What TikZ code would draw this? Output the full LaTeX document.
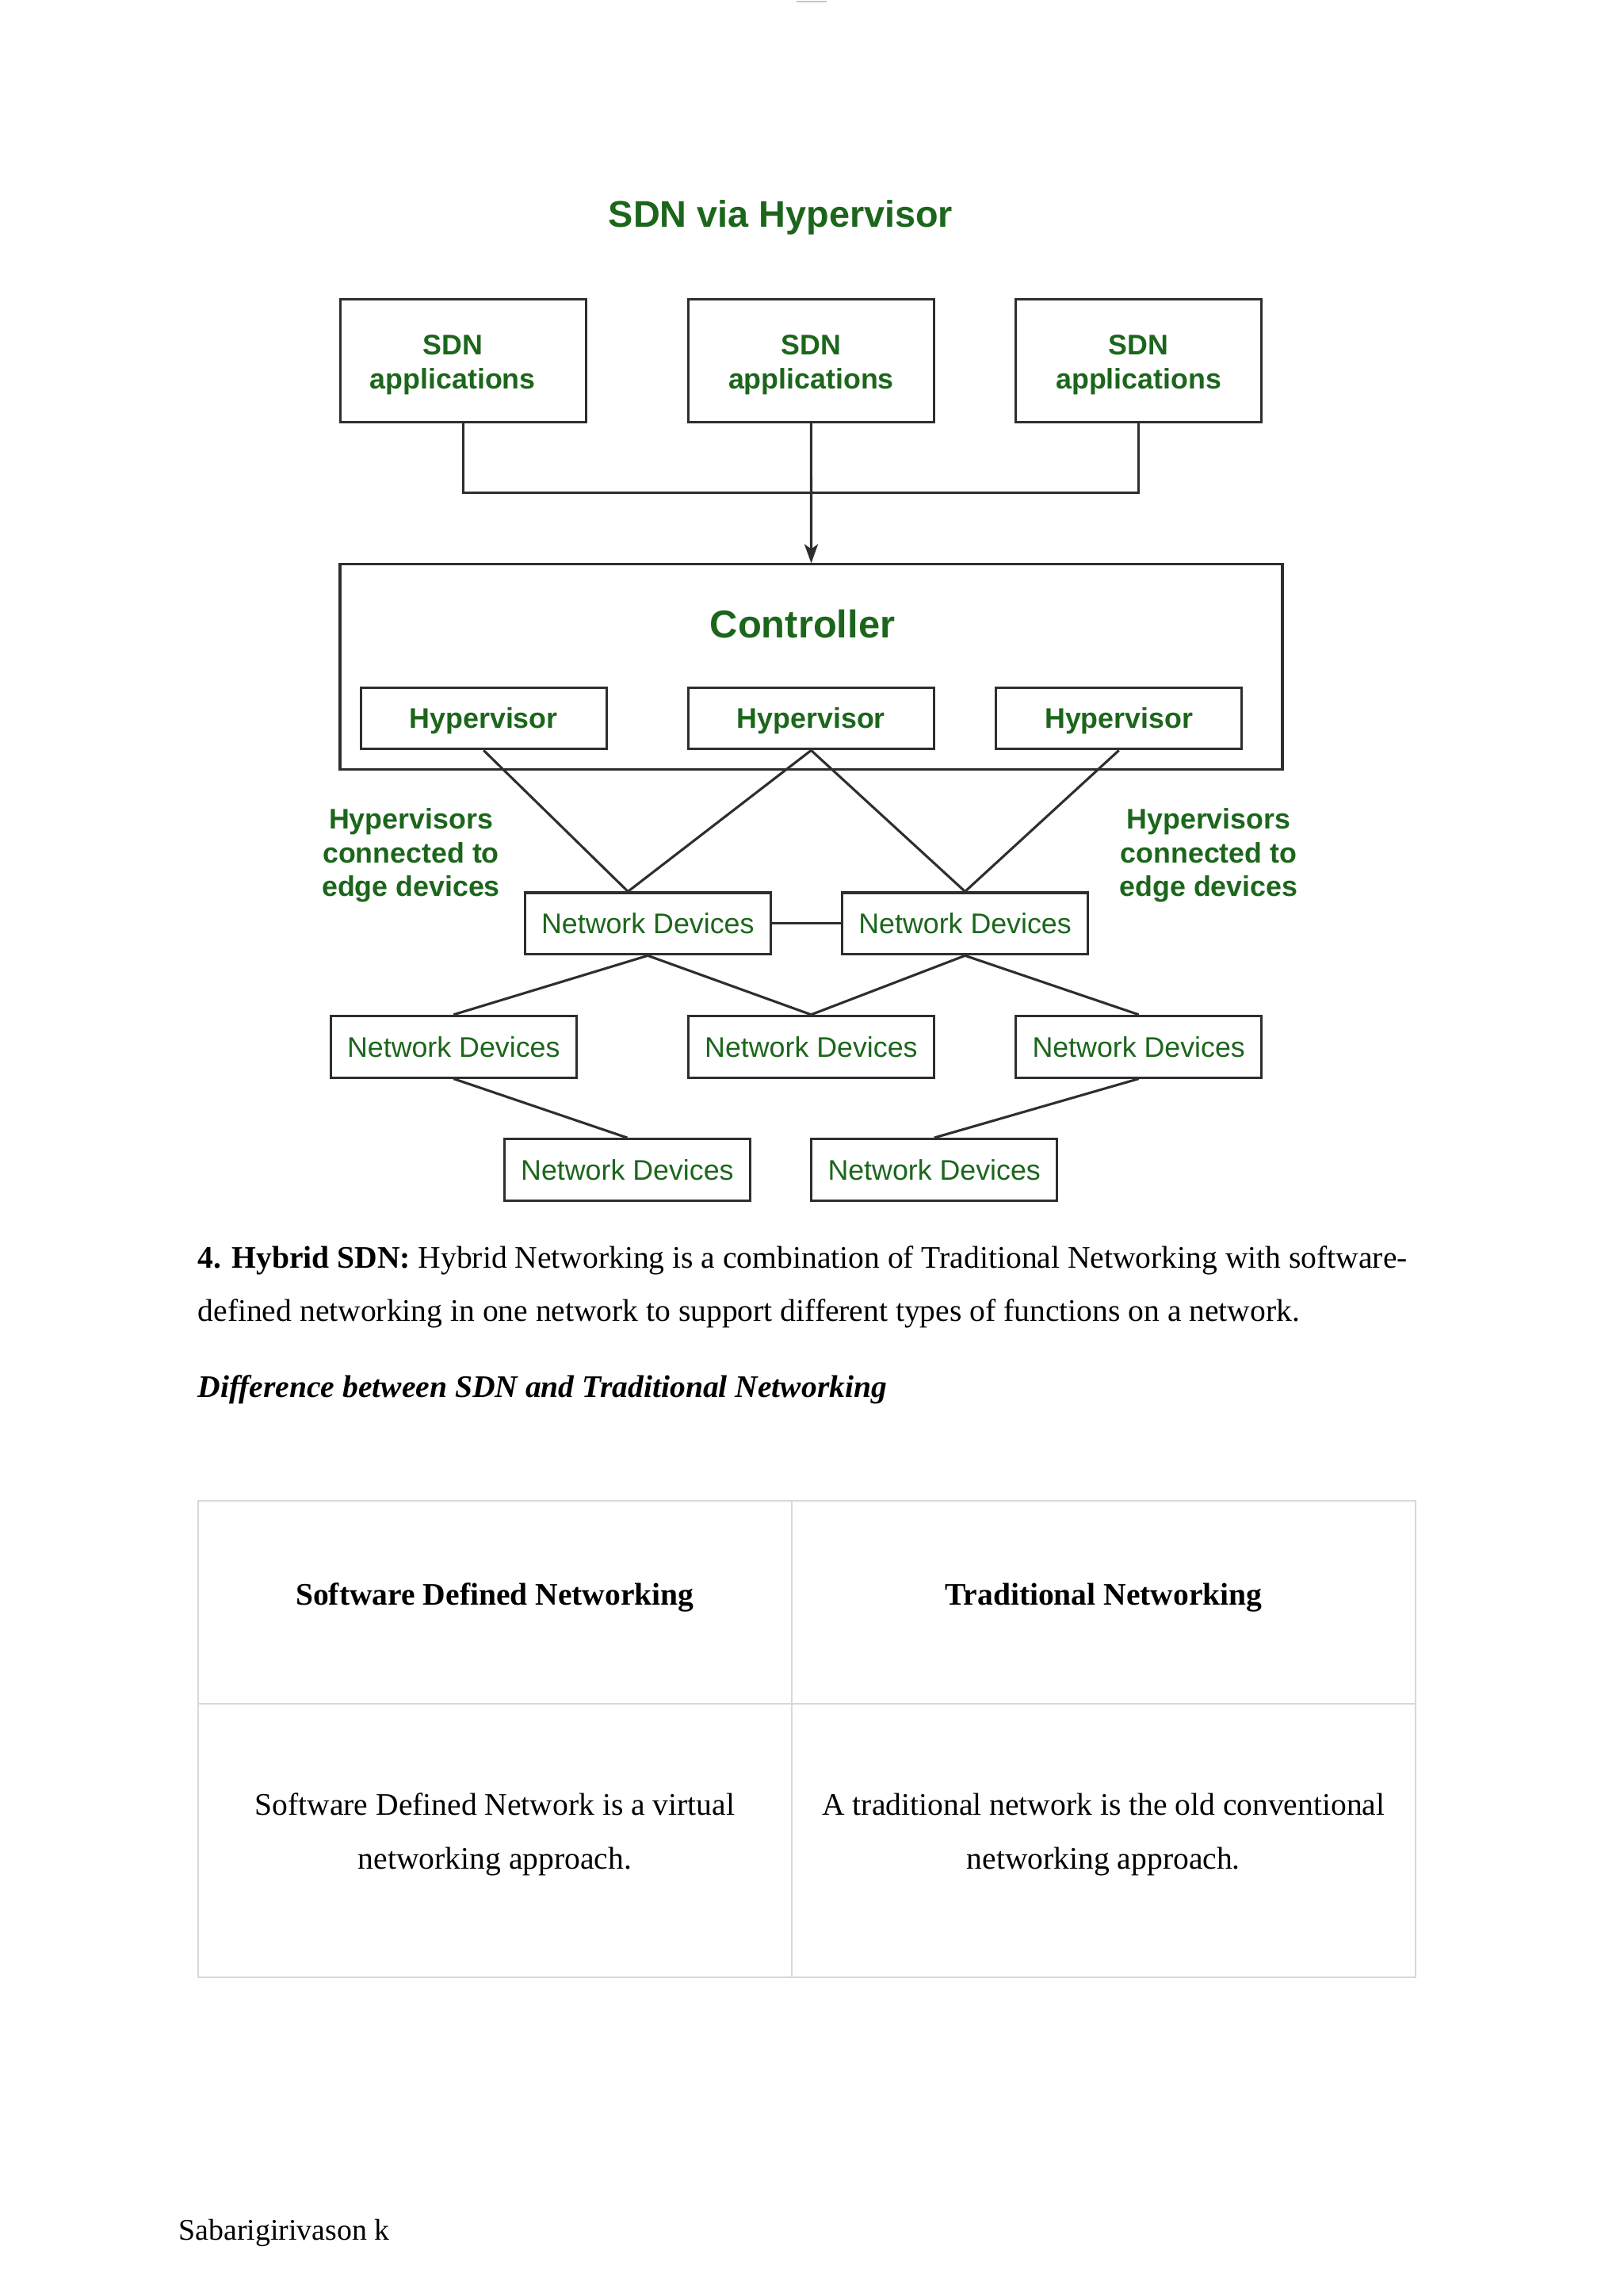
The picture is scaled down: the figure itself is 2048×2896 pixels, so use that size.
\documentclass[tikz,border=0pt]{standalone}
\usepackage{fontspec}
\setmainfont{Liberation Serif}
\setsansfont{Liberation Sans}
\usetikzlibrary{arrows.meta,calc}
\definecolor{sdngreen}{HTML}{1C661C}
\definecolor{linec}{HTML}{2E2E2E}
\definecolor{tablec}{HTML}{D8D8D8}
\begin{document}
\begin{tikzpicture}[x=0.29067pt,y=-0.29067pt,
  box/.style={draw=linec, line width=0.9pt, minimum width=90.1pt, minimum height=22.6pt,
    inner sep=0pt, text=sdngreen, align=center,
    font=\sffamily\bfseries\fontsize{10.4}{12.3}\selectfont},
  appbox/.style={box, minimum height=45.1pt},
  devbox/.style={box, font=\sffamily\fontsize{10.4}{12.3}\selectfont},
  greentext/.style={text=sdngreen, align=center, inner sep=0pt,
    font=\sffamily\bfseries\fontsize{10.4}{12.3}\selectfont},
  link/.style={draw=linec, line width=0.9pt},
  bodytext/.style={inner sep=0pt, anchor=base west, font=\fontsize{11.5}{19.5}\selectfont},
  celltext/.style={inner sep=0pt, anchor=base, align=center, font=\fontsize{11.5}{19.8}\selectfont},
  tableline/.style={draw=tablec, line width=0.6pt}]
\fill[white] (0,0) rectangle (2048,2896);
\useasboundingbox (0,0) rectangle (2048,2896);
% tiny mark at the top edge
\draw[gray!45, line width=0.8pt] (1005,2) -- (1043,2);
% title
\node[greentext, anchor=base, font=\sffamily\bfseries\fontsize{13.6}{16}\selectfont] (title) at (985,286.7) {SDN via Hypervisor};
% SDN applications
\node[appbox, label={[greentext, xshift=-3.8pt, yshift=-1.5pt]center:{SDN\\applications}}] (app1) at (584.3,454.9) {};
\node[appbox, label={[greentext, yshift=-1.5pt]center:{SDN\\applications}}] (app2) at (1023.4,454.9) {};
\node[appbox, label={[greentext, yshift=-1.5pt]center:{SDN\\applications}}] (app3) at (1436.7,454.9) {};
% controller
\node[draw=linec, line width=0.9pt, minimum width=345.6pt, minimum height=75.2pt, inner sep=0pt] (ctrl) at (1023.5,841.3) {};
\node[greentext, anchor=base, font=\sffamily\bfseries\fontsize{14.2}{16}\selectfont] (ctrltext) at (1012.5,804) {Controller};
\node[box, label={[greentext, yshift=-0.8pt]center:Hypervisor}] (hv1) at (610.2,906) {};
\node[box, label={[greentext, yshift=-0.8pt]center:Hypervisor}] (hv2) at (1023.4,906) {};
\node[box, label={[greentext, yshift=-0.8pt]center:Hypervisor}] (hv3) at (1411.7,906) {};
% bus and arrow
\coordinate (bus) at (1023.4,621.3);
\draw[link] (app1.south) |- (bus) -| (app3.south);
\draw[link, -{Stealth[length=7pt,width=5pt,inset=1.8pt]}] (app2.south) -- (ctrl.north);
% labels
\node[greentext] (lblL) at (518.5,1079) {Hypervisors\\connected to\\edge devices};
\node[greentext] (lblR) at (1525,1079) {Hypervisors\\connected to\\edge devices};
% network devices
\node[devbox] (nd1) at (817.3,1164.9) {Network Devices};
\node[devbox] (nd2) at (1217.6,1164.9) {Network Devices};
\node[devbox] (nd3) at (572.3,1320.2) {Network Devices};
\node[devbox] (nd4) at (1023.4,1320.2) {Network Devices};
\node[devbox] (nd5) at (1436.7,1320.2) {Network Devices};
\node[devbox] (nd6) at (791.4,1475.5) {Network Devices};
\node[devbox] (nd7) at (1178.7,1475.5) {Network Devices};
\coordinate (nd1in) at ($(nd1.north)+(-25,0)$);
\draw[link] (hv1.south) -- (nd1in);
\draw[link] (hv2.south) -- (nd1in);
\draw[link] (hv2.south) -- (nd2.north);
\draw[link] (hv3.south) -- (nd2.north);
\draw[link] (nd1) -- (nd2);
\draw[link] (nd1.south) -- (nd3.north);
\draw[link] (nd1.south) -- (nd4.north);
\draw[link] (nd2.south) -- (nd4.north);
\draw[link] (nd2.south) -- (nd5.north);
\draw[link] (nd3.south) -- (nd6.north);
\draw[link] (nd5.south) -- (nd7.north);
% body text
\node[bodytext] (p1) at (249,1599.3) {\textbf{4. Hybrid SDN:} Hybrid Networking is a combination of Traditional Networking with software-};
\node[bodytext] (p2) at (249,1666) {defined networking in one network to support different types of functions on a network.};
\node[bodytext] (p3) at (249,1762.7) {\textbf{\textit{Difference between SDN and Traditional Networking}}};
% table
\draw[tableline] (250,1892.7) rectangle (1786,2494.3);
\draw[tableline] (998.7,1892.7) -- (998.7,2494.3);
\draw[tableline] (250,2149.3) -- (1786,2149.3);
\node[celltext] (h1) at (624.4,2024) {\textbf{Software Defined Networking}};
\node[celltext] (h2) at (1392.4,2024) {\textbf{Traditional Networking}};
\node[celltext] (c1) at (624.4,2357.3) {Software Defined Network is a virtual\\networking approach.};
\node[celltext] (c2) at (1392.4,2357.3) {A traditional network is the old conventional\\networking approach.};
% footer
\node[bodytext, font=\fontsize{11}{13}\selectfont] (foot) at (225,2825) {Sabarigirivason k};
\end{tikzpicture}
\end{document}
